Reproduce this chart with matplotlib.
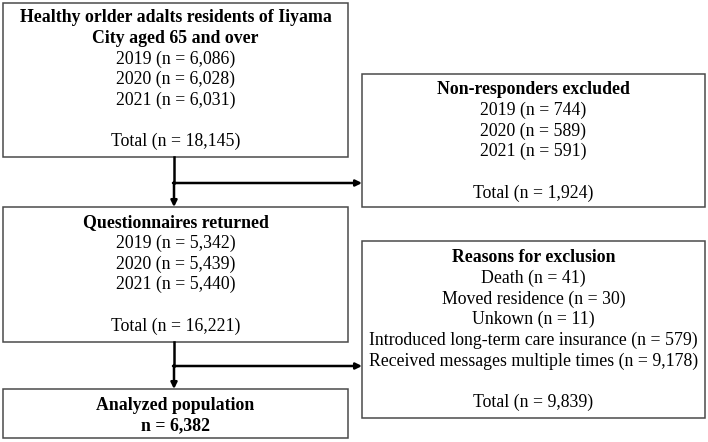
import matplotlib.pyplot as plt
from matplotlib.patches import Rectangle

# flowchart numbers
years = ["2019", "2020", "2021"]
invited = [6086, 6028, 6031]
invited_total = 18145
nonresp = [744, 589, 591]
nonresp_total = 1924
returned = [5342, 5439, 5440]
returned_total = 16221
reason_names = ["Death", "Moved residence", "Unkown",
                "Introduced long-term care insurance",
                "Received messages multiple times"]
reason_counts = [41, 30, 11, 579, 9178]
reason_total = 9839
analyzed = 6382

plt.rcParams['font.family'] = ['Liberation Serif', 'DejaVu Serif']
FS = 12.8
STEP = 20.6


def year_lines(counts, total):
    lines = [(f"{y} (n = {c:,})", False) for y, c in zip(years, counts)]
    lines.append(("", False))
    lines.append((f"Total (n = {total:,})", False))
    return lines


def draw_box(ax, x0, y0, x1, y1, lines, first_y):
    ax.add_patch(Rectangle((x0, y0), x1 - x0, y1 - y0, fill=False,
                           edgecolor='#4a4a4a', linewidth=1.1))
    cx = (x0 + x1) / 2
    y = first_y
    for txt, bold in lines:
        if txt:
            ax.text(cx, y, txt, ha='center', va='center', fontsize=FS,
                    fontweight='bold' if bold else 'normal', color='black')
        y += STEP


def arrow(ax, start, end):
    ax.annotate('', xy=end, xytext=start,
                arrowprops=dict(arrowstyle='-|>', lw=1.8, color='black',
                                mutation_scale=9, shrinkA=0, shrinkB=0))


fig = plt.figure(figsize=(7.08, 4.42), dpi=100)
ax = fig.add_axes([0, 0, 1, 1])
ax.set_xlim(0, 708)
ax.set_ylim(442, 0)
ax.axis('off')

box1 = [("Healthy orlder adalts residents of Iiyama", True),
        ("City aged 65 and over", True)] + year_lines(invited, invited_total)
draw_box(ax, 3, 3, 348, 157, box1, 18)

box2 = [("Non-responders excluded", True)] + year_lines(nonresp, nonresp_total)
draw_box(ax, 362, 74, 705, 207, box2, 90)

box3 = [("Questionnaires returned", True)] + year_lines(returned, returned_total)
draw_box(ax, 3, 207, 348, 342, box3, 223)

box4 = [("Reasons for exclusion", True)]
box4 += [(f"{n} (n = {c:,})", False) for n, c in zip(reason_names, reason_counts)]
box4 += [("", False), (f"Total (n = {reason_total:,})", False)]
draw_box(ax, 362, 241, 705, 418, box4, 258)

box5 = [("Analyzed population", True), (f"n = {analyzed:,}", True)]
draw_box(ax, 3, 389, 348, 438, box5, 405)

# connectors
ax.plot([174, 174], [157, 183], color='black', lw=1.8)
arrow(ax, (174, 182), (174, 207))
arrow(ax, (173, 183), (362, 183))
ax.plot([174, 174], [342, 366], color='black', lw=1.8)
arrow(ax, (174, 365), (174, 389))
arrow(ax, (173, 366), (362, 366))

fig.savefig('out.png', dpi=100, facecolor='white')
